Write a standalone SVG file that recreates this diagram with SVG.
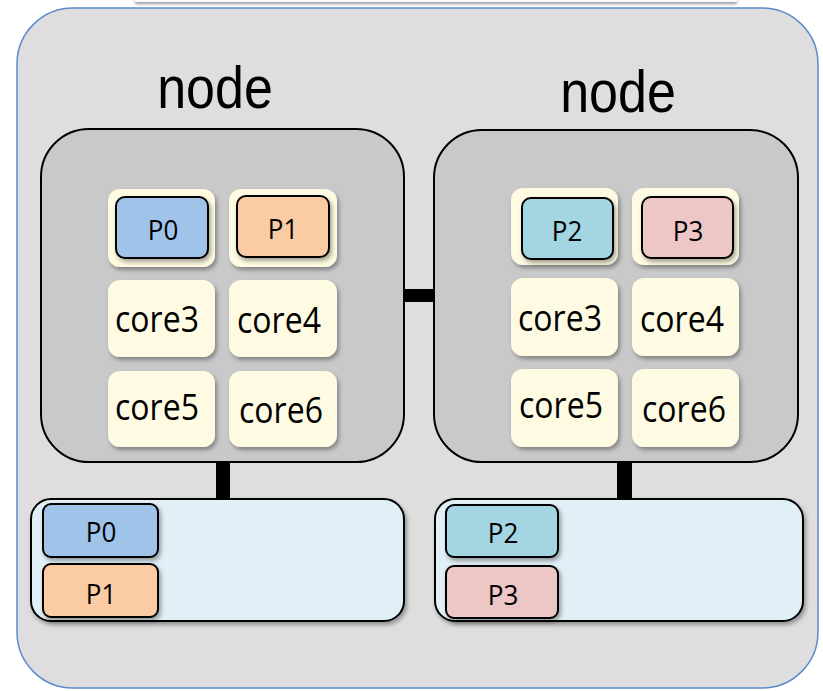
<svg xmlns="http://www.w3.org/2000/svg" width="823" height="691" viewBox="0 0 823 691">
<defs>
<filter id="sh" x="-20%" y="-20%" width="150%" height="160%"><feDropShadow dx="2" dy="3" stdDeviation="2" flood-color="#000" flood-opacity="0.35"/></filter>
<filter id="shs" x="-5%" y="-50%" width="110%" height="250%"><feDropShadow dx="0" dy="2" stdDeviation="1.5" flood-color="#000" flood-opacity="0.4"/></filter>
</defs>
<style>
.core{fill:#fefbe2;filter:url(#sh)}
.node{fill:#c9c9c9;stroke:#000;stroke-width:2}
.mem{fill:#e1eff6;stroke:#000;stroke-width:2;filter:url(#sh)}
.p{stroke:#000;stroke-width:2;filter:url(#sh)}
.p0{fill:#a0c3e9}.p1{fill:#fbcba3}.p2{fill:#a4d5e3}.p3{fill:#edc6c6}
.t{font-family:"Open Sans","Liberation Sans",sans-serif;fill:#000;text-anchor:middle}
.ct{font-size:32px}
.pt{font-size:26px}
.big{font-family:"Liberation Sans",Arial,sans-serif;font-size:52px;fill:#000;text-anchor:middle}
.link{fill:#000}
</style>
<rect width="823" height="691" fill="#fff"/>
<rect x="135" y="-20" width="602" height="22" fill="#fff" filter="url(#shs)"/>
<g id="cluster">
<rect x="17" y="8" width="801" height="680" rx="56" fill="#dedede" stroke="#5b8ccc" stroke-width="1.5"/>
</g>
<g id="connectors">
<rect class="link" x="404" y="289" width="30" height="13"/>
<rect class="link" x="216" y="462" width="14" height="38"/>
<rect class="link" x="617" y="462" width="15" height="38"/>
</g>
<g id="node-left">
<text class="big" transform="translate(215,108) scale(1,1.14)">node</text>
<rect class="node" x="41" y="129" width="363" height="333" rx="48"/>
<rect class="core" x="108" y="189" width="107" height="78" rx="12"/>
<rect class="core" x="229" y="189" width="108" height="78" rx="12"/>
<rect class="core" x="108" y="280" width="107" height="77" rx="12"/>
<rect class="core" x="229" y="280" width="108" height="77" rx="12"/>
<rect class="core" x="108" y="371" width="107" height="76" rx="12"/>
<rect class="core" x="229" y="371" width="108" height="76" rx="12"/>
<rect class="p p0" x="116" y="197" width="92" height="61" rx="9"/>
<rect class="p p1" x="237" y="196" width="92" height="61" rx="9"/>
<text class="t pt" transform="translate(163,240) scale(1,1.06)">P0</text>
<text class="t pt" transform="translate(283,239) scale(1,1.06)">P1</text>
<text class="t ct" transform="translate(157,332) scale(1,1.12)">core3</text>
<text class="t ct" transform="translate(279,333) scale(1,1.12)">core4</text>
<text class="t ct" transform="translate(157,420) scale(1,1.12)">core5</text>
<text class="t ct" transform="translate(281,423) scale(1,1.12)">core6</text>
</g>
<g id="node-right">
<text class="big" transform="translate(618,112) scale(1,1.14)">node</text>
<rect class="node" x="434" y="130" width="364" height="332" rx="48"/>
<rect class="core" x="511" y="188" width="107" height="77" rx="12"/>
<rect class="core" x="632" y="188" width="107" height="77" rx="12"/>
<rect class="core" x="511" y="278" width="107" height="78" rx="12"/>
<rect class="core" x="632" y="278" width="107" height="78" rx="12"/>
<rect class="core" x="511" y="369" width="107" height="78" rx="12"/>
<rect class="core" x="632" y="369" width="107" height="78" rx="12"/>
<rect class="p p2" x="522" y="198" width="91" height="61" rx="9"/>
<rect class="p p3" x="642" y="197" width="91" height="61" rx="9"/>
<text class="t pt" transform="translate(567,241) scale(1,1.06)">P2</text>
<text class="t pt" transform="translate(688,241) scale(1,1.06)">P3</text>
<text class="t ct" transform="translate(560,331) scale(1,1.12)">core3</text>
<text class="t ct" transform="translate(682,332) scale(1,1.12)">core4</text>
<text class="t ct" transform="translate(561,418) scale(1,1.12)">core5</text>
<text class="t ct" transform="translate(684,422) scale(1,1.12)">core6</text>
</g>
<g id="memory-left">
<rect class="mem" x="31" y="499" width="373" height="122" rx="20"/>
<rect class="p p0" x="43" y="504" width="115" height="53" rx="8"/>
<rect class="p p1" x="43" y="564" width="115" height="53" rx="8"/>
<text class="t pt" transform="translate(101,542) scale(1,1.06)">P0</text>
<text class="t pt" transform="translate(101,604) scale(1,1.06)">P1</text>
</g>
<g id="memory-right">
<rect class="mem" x="435" y="499" width="368" height="122" rx="20"/>
<rect class="p p2" x="446" y="505" width="112" height="52" rx="8"/>
<rect class="p p3" x="446" y="566" width="112" height="52" rx="8"/>
<text class="t pt" transform="translate(503,543) scale(1,1.06)">P2</text>
<text class="t pt" transform="translate(503,605) scale(1,1.06)">P3</text>
</g>
</svg>
